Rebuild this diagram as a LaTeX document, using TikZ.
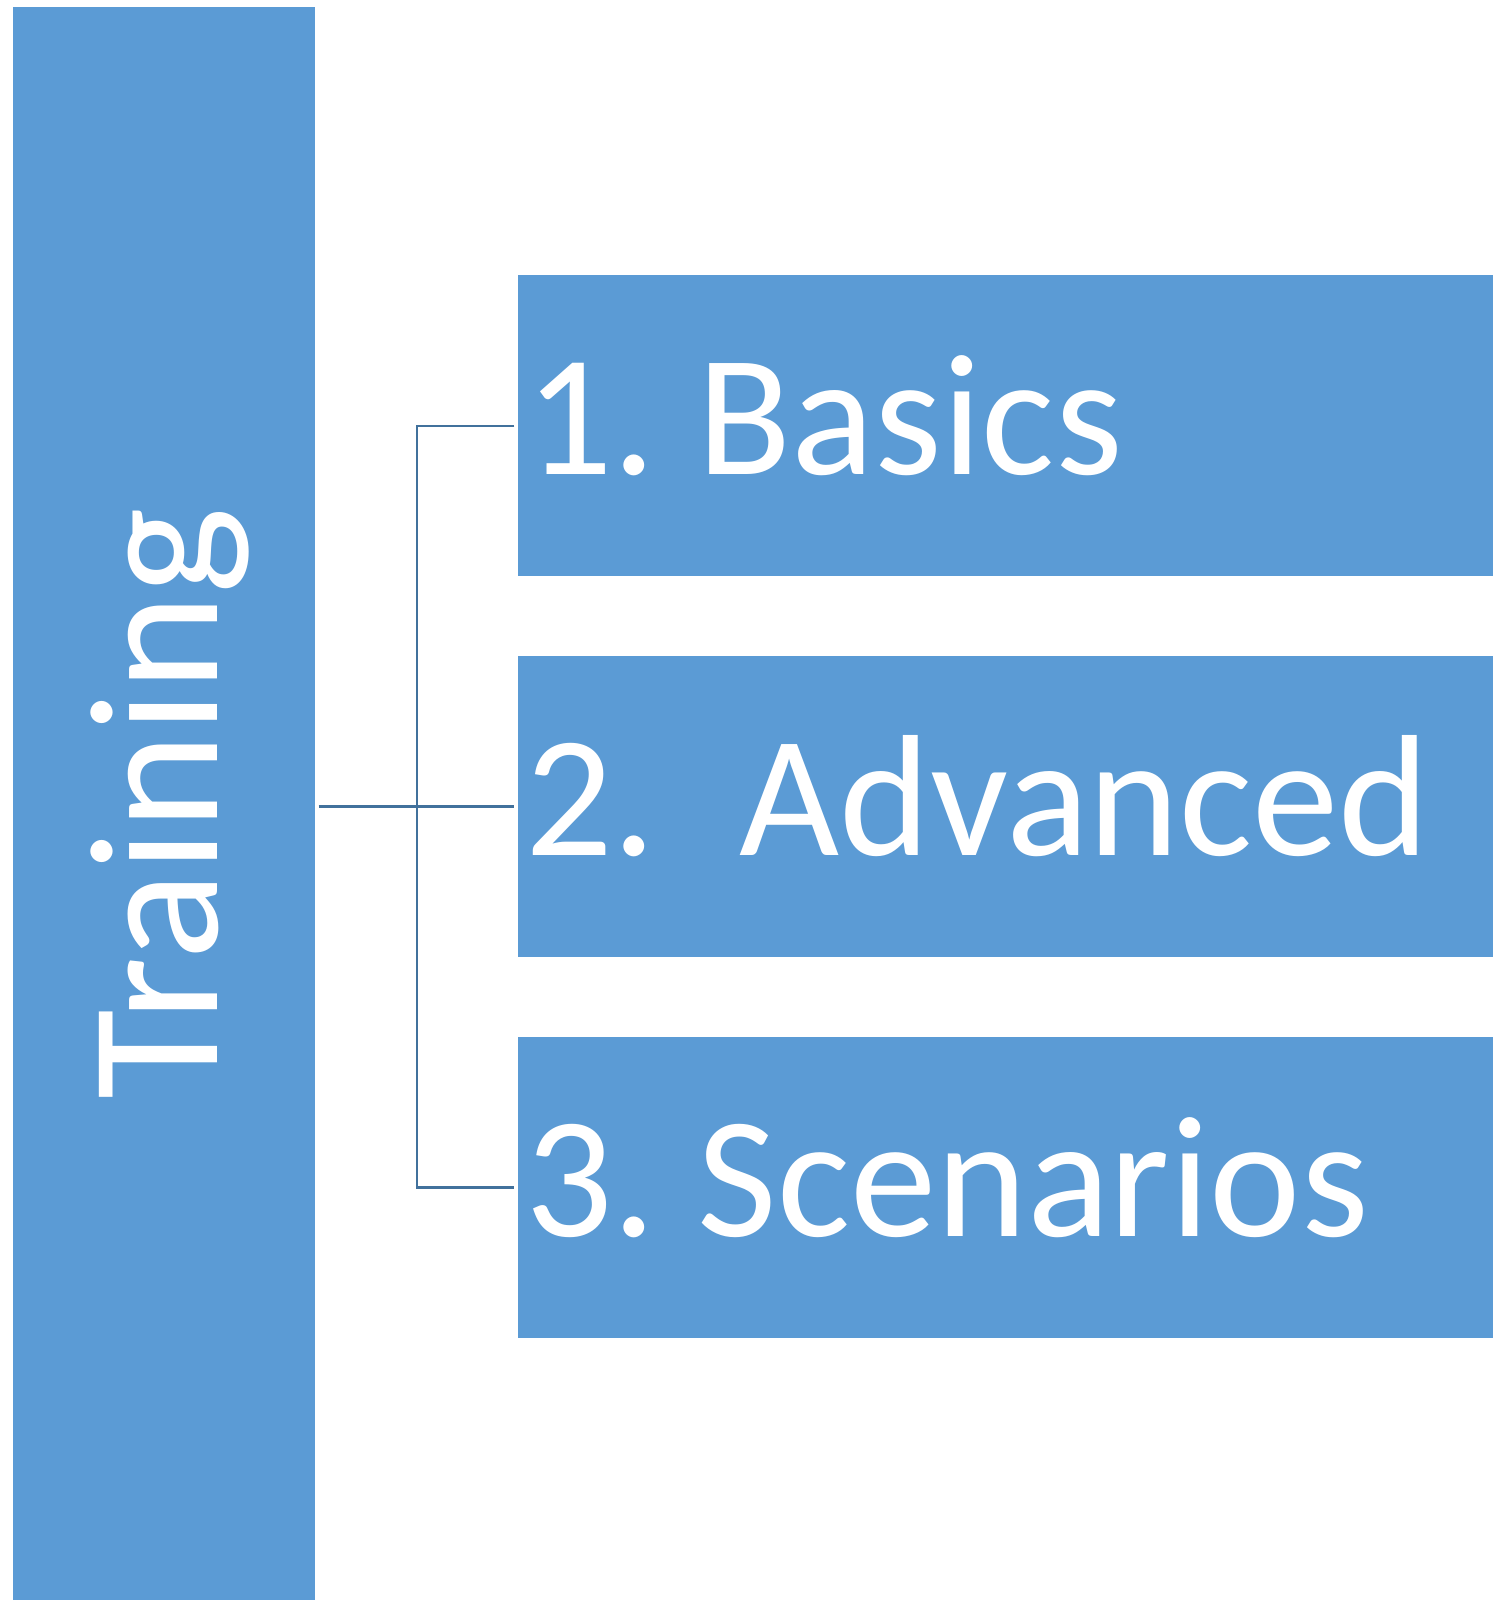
\documentclass[tikz,border=0pt]{standalone}
\usepackage{fontspec}
\setmainfont{Carlito}
\usepackage{xcolor}
\definecolor{boxblue}{HTML}{5B9BD5}
\definecolor{linkblue}{HTML}{41719C}
\frenchspacing
\newcommand\stagespace{\spaceskip=\fontdimen2\font\advance\spaceskip by 0.025cm\relax}

\begin{document}
\begin{tikzpicture}[
            trainbox/.style={fill=boxblue,text=white,rotate=90,inner sep=0pt,minimum width=15.93cm,minimum height=3.02cm,text height=1.06cm,text depth=0pt,font=\fontsize{52.4}{63}\selectfont},
            stagebox/.style={fill=boxblue,text=white,inner xsep=0.07cm,inner ysep=0pt,text width=9.61cm,align=left,minimum height=3.01cm,text height=0.98cm,text depth=0pt,font=\fontsize{49.2}{59}\selectfont,execute at begin node=\stagespace},
            link/.style={draw=linkblue,line width=0.65pt,shorten <=0.03cm,shorten >=0.03cm}]
            \useasboundingbox (0,0) rectangle (14.93,16);

            \node[trainbox] (train) at (1.64,7.965) {Training};

            \node[stagebox] (basics) at (10.055,11.74) {1. Basics};
            \node[stagebox] (advanced) at (10.055,7.935) {2.\ \ Advanced};
            \node[stagebox] (scenarios) at (10.055,4.125) {3. Scenarios};

            \coordinate (fork) at (4.17,7.935);
            \draw[link] (train.south |- advanced.west) -- (advanced.west);
            \draw[link] (basics.west) -| (fork) |- (scenarios.west);
          \end{tikzpicture}
\end{document}
